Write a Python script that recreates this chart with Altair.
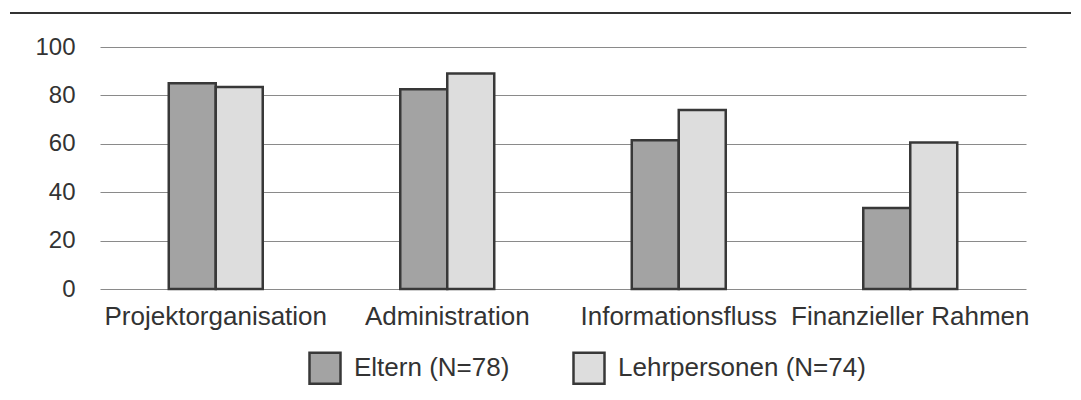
import altair as alt
import pandas as pd

categories = ["Projektorganisation", "Administration", "Informationsfluss", "Finanzieller Rahmen"]
groups = ["Eltern (N=78)", "Lehrpersonen (N=74)"]
eltern = [85, 82.5, 61.5, 33.5]
lehrpersonen = [83.5, 89, 74, 60.5]

rows = []
for c, e, l in zip(categories, eltern, lehrpersonen):
    rows.append({"Kategorie": c, "Gruppe": groups[0], "Wert": e})
    rows.append({"Kategorie": c, "Gruppe": groups[1], "Wert": l})
df = pd.DataFrame(rows)

W, H = 926, 242
FONT = "Liberation Sans"

bars = alt.Chart(df).mark_bar(stroke="#383838", strokeWidth=2.5).encode(
    x=alt.X("Kategorie:N", sort=categories, title=None,
            scale=alt.Scale(paddingInner=0.594, paddingOuter=0.297),
            axis=alt.Axis(labelAngle=0, labelFontSize=26, labelFont=FONT, labelColor="#333333",
                          labelPadding=14, labelLimit=0, domain=False, ticks=False, grid=False)),
    xOffset=alt.XOffset("Gruppe:N", sort=groups, scale=alt.Scale(paddingInner=0, paddingOuter=0)),
    y=alt.Y("Wert:Q", title=None, scale=alt.Scale(domain=[0, 100], nice=False),
            axis=alt.Axis(values=[0, 20, 40, 60, 80, 100], labelFontSize=24, labelFont=FONT,
                          labelColor="#333333", labelPadding=25, domain=False, ticks=False,
                          grid=True, gridColor="#8a8a8a", gridWidth=1.2)),
    fill=alt.Fill("Gruppe:N", sort=groups,
                  scale=alt.Scale(domain=groups, range=["#a3a3a3", "#dddddd"]),
                  legend=alt.Legend(title=None, orient="none", direction="horizontal",
                                    legendX=208, legendY=304, symbolType="square",
                                    symbolSize=961, symbolStrokeColor="#383838",
                                    symbolStrokeWidth=2.5, labelFontSize=26, labelFont=FONT,
                                    labelColor="#333333", labelOffset=12, columnPadding=58,
                                    labelLimit=0, padding=0)),
)

top_rule = alt.Chart(df).mark_rule(color="#333333", strokeWidth=2).encode(
    x=alt.value(-90), x2=alt.value(W + 55), y=alt.value(-34)
)

chart = alt.layer(top_rule, bars).properties(
    width=W, height=H,
    autosize=alt.AutoSizeParams(type="none"),
    padding={"left": 92, "top": 39, "right": 45, "bottom": 100},
).configure(font=FONT).configure_view(strokeWidth=0, stroke="transparent")

chart.save("out.html", embed_options={"renderer": "svg", "actions": False})
